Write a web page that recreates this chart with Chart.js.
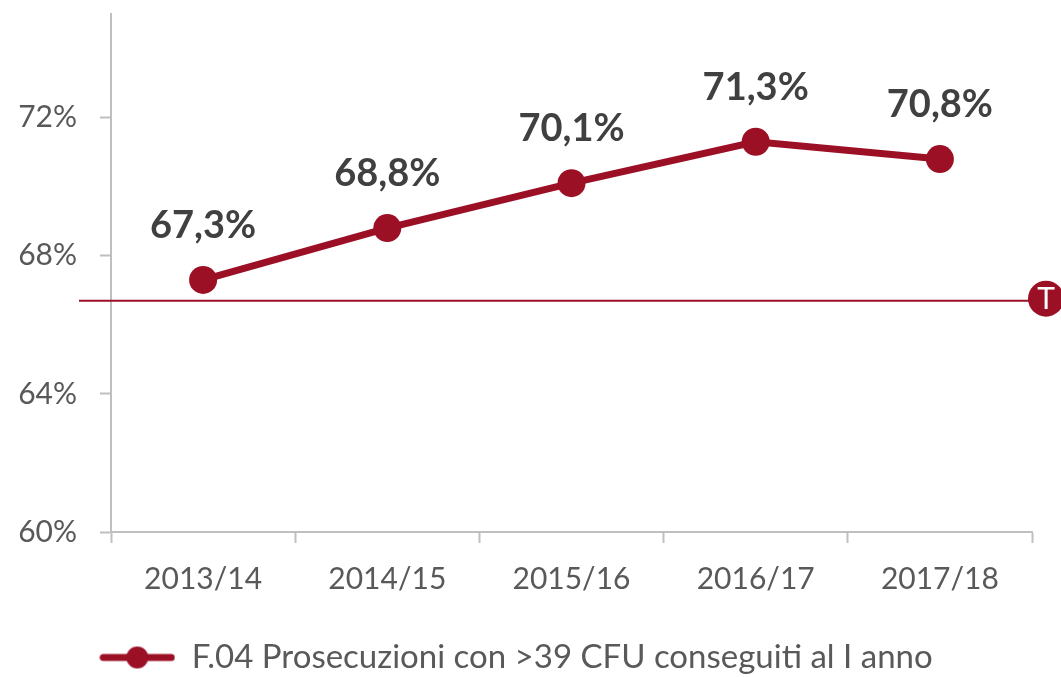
<!DOCTYPE html>
<html>
<head>
<meta charset="utf-8">
<script src="https://cdn.jsdelivr.net/npm/chart.js@4/dist/chart.umd.min.js"></script>
<style>
html,body{margin:0;padding:0;background:#fff;}
#wrap{width:1061px;height:677px;position:relative;}
</style>
</head>
<body>
<div id="wrap"><canvas id="c" width="1061" height="677"></canvas></div>
<script>
const categories = ['2013/14', '2014/15', '2015/16', '2016/17', '2017/18'];
const values = [67.3, 68.8, 70.1, 71.3, 70.8];
const seriesLabel = 'F.04 Prosecuzioni con >39 CFU conseguiti al I anno';
const yTickValues = [60, 64, 68, 72];
const targetValue = 66.7;
const targetLabel = 'T';

const RED = '#9c1026';
const TXT = '#595959';
const AXIS = '#bfbfbf';
const FONT = 'Lato, "Open Sans", sans-serif';

// legend marker: line with a dot
const mk = document.createElement('canvas');
mk.width = 76; mk.height = 26;
(function(){
  const g = mk.getContext('2d');
  g.strokeStyle = RED; g.lineWidth = 7; g.lineCap = 'round';
  g.beginPath(); g.moveTo(4, 13); g.lineTo(72, 13); g.stroke();
  g.fillStyle = RED; g.beginPath(); g.arc(38, 13, 11, 0, Math.PI*2); g.fill();
})();

const fmt = v => v.toFixed(1).replace('.', ',') + '%';

const labelsPlugin = {
  id: 'valueLabels',
  afterDatasetsDraw(chart) {
    const ctx = chart.ctx;
    const meta = chart.getDatasetMeta(0);
    ctx.save();
    ctx.font = 'bold 38px ' + FONT;
    ctx.fillStyle = '#404040';
    ctx.textAlign = 'center';
    ctx.textBaseline = 'middle';
    meta.data.forEach((p, i) => {
      ctx.fillText(fmt(values[i]), p.x, p.y - 54);
    });
    ctx.restore();
  }
};

const targetPlugin = {
  id: 'target',
  beforeDatasetsDraw(chart) {
    const ctx = chart.ctx;
    const y = chart.scales.y.getPixelForValue(targetValue);
    ctx.save();
    ctx.strokeStyle = RED;
    ctx.lineWidth = 2;
    ctx.beginPath();
    ctx.moveTo(79, y);
    ctx.lineTo(1035, y);
    ctx.stroke();
    const cx = 1046, r = 18;
    ctx.fillStyle = RED;
    ctx.beginPath(); ctx.arc(cx, y - 2, r, 0, Math.PI*2); ctx.fill();
    ctx.fillStyle = '#fff';
    ctx.font = '30px ' + FONT;
    ctx.textAlign = 'center';
    ctx.textBaseline = 'middle';
    ctx.fillText(targetLabel, cx, y - 1);
    ctx.restore();
  }
};

new Chart(document.getElementById('c'), {
  type: 'line',
  data: {
    labels: categories,
    datasets: [{
      label: seriesLabel,
      data: values,
      borderColor: RED,
      backgroundColor: RED,
      borderWidth: 7,
      pointRadius: 14,
      pointHoverRadius: 14,
      pointBackgroundColor: RED,
      pointBorderColor: RED,
      pointBorderWidth: 0,
      tension: 0,
      clip: false
    }]
  },
  options: {
    responsive: false,
    animation: false,
    devicePixelRatio: 1,
    layout: { padding: { top: 12, right: 29, left: 0, bottom: -7 } },
    plugins: {
      tooltip: { enabled: false },
      legend: {
        position: 'bottom',
        align: 'center',
        labels: {
          usePointStyle: true,
          pointStyle: mk,
          pointStyleWidth: 76,
          boxHeight: 26,
          padding: 7,
          color: TXT,
          font: { family: FONT, size: 33 },
          generateLabels(chart) {
            return [{ text: seriesLabel, pointStyle: mk, fillStyle: RED, strokeStyle: RED, lineWidth: 0, fontColor: TXT, datasetIndex: 0, hidden: false }];
          }
        }
      }
    },
    scales: {
      x: {
        offset: true,
        grid: { display: true, offset: true, drawOnChartArea: false, drawTicks: true, tickLength: 11, tickWidth: 2, tickColor: AXIS },
        border: { display: true, color: AXIS, width: 2 },
        ticks: { color: TXT, font: { family: FONT, size: 30 }, padding: 18, maxRotation: 0 },
        afterFit(s) { s.height = 102; s.paddingLeft = 0; s.paddingRight = 0; }
      },
      y: {
        min: 60, max: 75,
        afterBuildTicks(s) { s.ticks = yTickValues.map(v => ({ value: v })); },
        grid: { display: true, drawOnChartArea: false, drawTicks: true, tickLength: 11, tickWidth: 2, tickColor: AXIS },
        border: { display: true, color: AXIS, width: 2 },
        ticks: { color: TXT, font: { family: FONT, size: 30 }, padding: 23, callback: v => v + '%' },
        afterFit(s) { s.width = 111; s.paddingTop = 0; s.paddingBottom = 0; }
      }
    }
  },
  plugins: [labelsPlugin, targetPlugin]
});
</script>
</body>
</html>
